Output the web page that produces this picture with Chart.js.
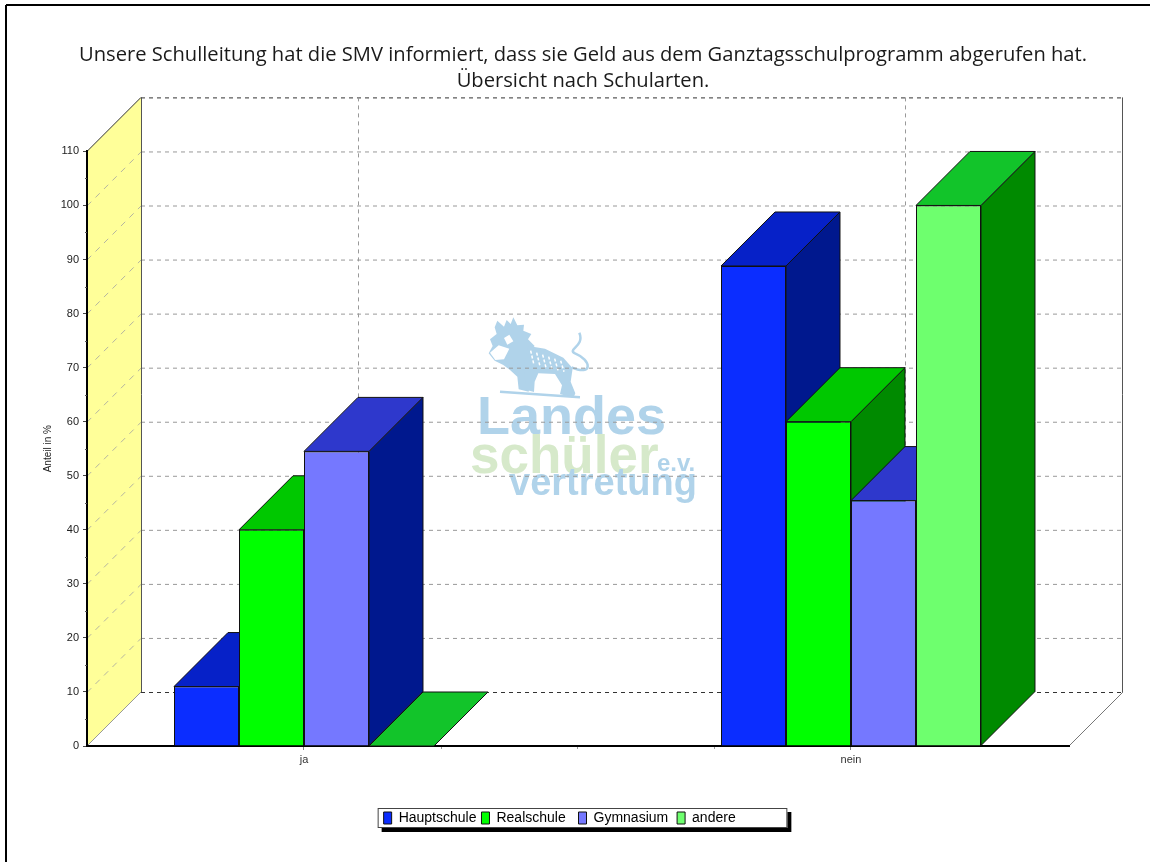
<!DOCTYPE html>
<html>
<head>
<meta charset="utf-8">
<title>Schulleitung SMV</title>
<style>
  html, body { margin: 0; padding: 0; background: #fff; overflow: hidden; }
  #wrap { position: absolute; left: 0; top: 0; width: 1150px; height: 862px; }
</style>
<script src="https://cdn.jsdelivr.net/npm/chart.js@4/dist/chart.umd.min.js"></script>
</head>
<body>
<div id="wrap"><canvas id="chart" width="1150" height="862"></canvas></div>
<script>
// --- DATA ---
const categories = ['ja', 'nein'];
const seriesNames = ['Hauptschule', 'Realschule', 'Gymnasium', 'andere'];
const hauptschule = [11, 88.8];
const realschule = [40, 60];
const gymnasium = [54.5, 45.4];
const andere = [0, 100];
const titleLines = [
  'Unsere Schulleitung hat die SMV informiert, dass sie Geld aus dem Ganztagsschulprogramm abgerufen hat.',
  'Übersicht nach Schularten.'
];
const yAxisTitle = 'Anteil in %';

// --- STYLES ---
const frontColors = ['#0b2dff', '#00ff00', '#7578ff', '#6eff6e'];
const topColors = ['#0621c8', '#00c800', '#2e38cc', '#12c42a'];
const sideColors = ['#00188e', '#008a00', '#00188e', '#008a00'];
const DEPTH = 54; // 3D offset of the back wall
const GRID = '#999999';
const legendTrailing = [0, 2, 1, 12]; // the source legend pads its columns with blanks

// Category scale with wider outer margins than the stock one
class MarginCategoryScale extends Chart.CategoryScale {
  static id = 'marginCategory';
  static defaults = Chart.CategoryScale.defaults;
  configure() {
    super.configure();
    this._startValue = -0.39671;
    this._valueRange = 1.79525;
  }
}
Chart.register(MarginCategoryScale);

function poly(ctx, pts, fill, stroke, lw) {
  ctx.beginPath();
  pts.forEach((p, i) => i ? ctx.lineTo(p[0], p[1]) : ctx.moveTo(p[0], p[1]));
  ctx.closePath();
  if (fill) { ctx.fillStyle = fill; ctx.fill(); }
  if (stroke) { ctx.strokeStyle = stroke; ctx.lineWidth = lw || 1; ctx.stroke(); }
}

function line(ctx, x1, y1, x2, y2, color, lw, dash) {
  ctx.save();
  ctx.beginPath();
  ctx.setLineDash(dash || []);
  ctx.moveTo(x1, y1);
  ctx.lineTo(x2, y2);
  ctx.strokeStyle = color;
  ctx.lineWidth = lw || 1;
  ctx.stroke();
  ctx.restore();
}

// --- WATERMARK --- (lion sketch + organisation name)
function drawWatermark(ctx) {
  const blue = '#b0d3ea', green = '#d6e9ca';
  const m = pts => pts.map(p => [460 + p[0] / 3, 310 + p[1] / 3]);
  ctx.save();
  // mane
  poly(ctx, m([[112,32],[132,50],[140,30],[152,42],[160,22],[172,46],[192,44],[190,62],[214,72],[204,88],[224,108],[206,128],[212,150],[196,168],[212,200],[206,245],[176,238],[172,200],[150,180],[130,165],[104,152],[86,130],[98,108],[90,88],[110,72],[104,52]]), blue);
  // body and legs
  poly(ctx, m([[205,108],[255,116],[310,143],[338,175],[332,215],[346,250],[340,264],[300,252],[306,226],[285,192],[235,190],[224,215],[222,246],[200,240],[190,170]]), blue);
  // face and stripes
  poly(ctx, m([[90,128],[116,106],[148,116],[132,148],[106,150]]), '#ffffff');
  poly(ctx, m([[132,84],[148,74],[160,94],[142,104]]), '#ffffff');
  for (let i = 0; i < 6; i++) {
    line(ctx, 460 + (212 + i * 18) / 3, 310 + (122 + i * 6) / 3, 460 + (222 + i * 18) / 3, 310 + (165 + i * 4) / 3, '#ffffff', 1.5, [3, 2]);
  }
  // tail
  ctx.beginPath();
  ctx.moveTo(460 + 335 / 3, 310 + 172 / 3);
  ctx.bezierCurveTo(460 + 400 / 3, 310 + 200 / 3, 460 + 395 / 3, 310 + 150 / 3, 460 + 345 / 3, 310 + 130 / 3);
  ctx.bezierCurveTo(460 + 320 / 3, 310 + 118 / 3, 460 + 375 / 3, 310 + 110 / 3, 460 + 358 / 3, 310 + 68 / 3);
  ctx.strokeStyle = blue;
  ctx.lineWidth = 2.5;
  ctx.stroke();
  // ground
  line(ctx, 460 + 120 / 3, 310 + 245 / 3, 460 + 360 / 3, 310 + 262 / 3, blue, 2.5);
  // name
  ctx.textAlign = 'left';
  ctx.textBaseline = 'alphabetic';
  ctx.fillStyle = blue;
  ctx.font = 'bold 54px "Liberation Sans"';
  ctx.fillText('Landes', 477, 434);
  ctx.fillStyle = green;
  ctx.font = 'bold 53px "Liberation Sans"';
  ctx.fillText('schüler', 470, 473);
  ctx.fillStyle = blue;
  ctx.font = 'bold 24px "Liberation Sans"';
  ctx.fillText('e.v.', 657, 471);
  ctx.font = 'bold 38px "Liberation Sans"';
  ctx.fillText('vertretung', 509, 495);
  ctx.restore();
}

// --- BACK WALLS, LEGEND BOX, FRAME ---
const backdropPlugin = {
  id: 'backdrop',
  beforeDraw(chart) {
    const ctx = chart.ctx, x = chart.scales.x, y = chart.scales.y;
    const L = x.left, R = x.right, B = y.bottom, T = y.top, d = DEPTH;

    ctx.save();
    ctx.fillStyle = '#fff';
    ctx.fillRect(0, 0, chart.width, chart.height);

    // outer frame, only top and left are inside the picture
    line(ctx, 6, 5, chart.width, 5, '#000', 2);
    line(ctx, 6, 5, 6, chart.height, '#000', 2);

    drawWatermark(ctx);

    // side wall
    poly(ctx, [[L, T], [L + d, T - d], [L + d, B - d], [L, B]], '#ffff99');

    // grid on the walls
    y.ticks.forEach(t => {
      const py = y.getPixelForValue(t.value) + 0.5;
      const strong = t.value === 0 || t.value === 110;
      line(ctx, L + d, py - d, R + d, py - d, strong ? '#333' : GRID, 1, [4, 4]);
      if (t.value !== 0 && t.value !== 110) line(ctx, L, py, L + d, py - d, '#b5b5a0', 1, [6, 6]);
    });
    categories.forEach((c, i) => {
      const px = Math.round(x.getPixelForValue(i)) + d + 0.5;
      line(ctx, px, T - d, px, B - d, GRID, 1, [4, 4]);
    });

    // edges of walls and floor
    line(ctx, L, T, L + d, T - d, '#333', 1);
    line(ctx, L + d + 0.5, T - d, L + d + 0.5, B - d, '#555', 1);
    line(ctx, R + d - 0.5, T - d, R + d - 0.5, B - d, '#555', 1);
    line(ctx, L, B, L + d, B - d, '#999', 1);
    line(ctx, R, B, R + d, B - d, '#777', 1);

    // legend box with hard shadow
    const hits = chart.legend.legendHitBoxes;
    const last = hits[hits.length - 1];
    const bx = hits[0].left - 6, by = hits[0].top - 3;
    const bw = last.left + last.width + 5 - bx, bh = 20;
    ctx.fillStyle = '#000';
    ctx.fillRect(bx + 4, by + 4, bw, bh);
    ctx.fillStyle = '#fff';
    ctx.fillRect(bx, by, bw, bh);
    ctx.strokeStyle = '#444';
    ctx.lineWidth = 1;
    ctx.strokeRect(bx + 0.5, by + 0.5, bw - 1, bh - 1);
    ctx.restore();
  },
  afterDraw(chart) {
    // minor ticks the source axes show between the labelled ones
    const ctx = chart.ctx, x = chart.scales.x, y = chart.scales.y;
    y.ticks.forEach(t => {
      if (t.value >= 110) return;
      const py = Math.round(y.getPixelForValue(t.value + 5)) + 0.5;
      line(ctx, x.left - 2, py, x.left, py, '#555', 1);
    });
    [0.25, 0.5, 0.75].forEach(v => {
      const px = Math.round(x.getPixelForValue(v)) + 0.5;
      line(ctx, px, y.bottom + 1, px, y.bottom + 3, '#999', 1);
    });
  }
};

// --- 3D FACES --- first series is painted first, each bar's side and top go under its own front
const extrudePlugin = {
  id: 'extrude',
  beforeDatasetsDraw(chart) {
    const ctx = chart.ctx, d = DEPTH;
    seriesNames.forEach((name, i) => {
      const meta = chart.getDatasetMeta(i);
      ctx.save();
      ctx.lineJoin = 'round';
      meta.data.forEach(bar => {
        const l = bar.x - bar.width / 2, r = bar.x + bar.width / 2, t = bar.y, b = bar.base;
        if (b - t > 0.5) poly(ctx, [[r, t], [r + d, t - d], [r + d, b - d], [r, b]], sideColors[i], '#111', 1);
        poly(ctx, [[l, t], [l + d, t - d], [r + d, t - d], [r, t]], topColors[i], '#111', 1);
      });
      ctx.restore();
      meta.controller.draw();
    });
  },
  // already painted above, in the reversed order
  beforeDatasetDraw() { return false; }
};

const seriesValues = [hauptschule, realschule, gymnasium, andere];

new Chart(document.getElementById('chart'), {
  type: 'bar',
  data: {
    labels: categories,
    datasets: seriesNames.map((name, i) => ({
      label: name,
      data: seriesValues[i],
      backgroundColor: frontColors[i],
      borderColor: '#111',
      borderWidth: 1
    }))
  },
  plugins: [backdropPlugin, extrudePlugin],
  options: {
    responsive: false,
    animation: false,
    categoryPercentage: 260 / 547,
    barPercentage: 1,
    layout: { padding: { left: 16, right: 0, top: 0, bottom: 27 } },
    plugins: {
      tooltip: { enabled: false },
      title: {
        display: true,
        text: titleLines,
        color: '#1a1a1a',
        font: { family: '"Open Sans"', size: 20.16, weight: 'normal', lineHeight: 1.25 },
        padding: { top: 43, bottom: 58 }
      },
      legend: {
        position: 'bottom',
        labels: {
          boxWidth: 8,
          boxHeight: 12,
          padding: 5,
          color: '#111',
          font: { family: '"Liberation Sans"', size: 14 },
          generateLabels(chart) {
            return chart.data.datasets.map((ds, i) => ({
              text: ds.label + ' '.repeat(legendTrailing[i]),
              fillStyle: ds.backgroundColor,
              strokeStyle: '#111',
              lineWidth: 1,
              datasetIndex: i,
              hidden: false
            }));
          }
        }
      }
    },
    scales: {
      x: {
        type: 'marginCategory',
        offset: true,
        afterFit(scale) { scale.height = 60; },
        border: { color: '#000', width: 2 },
        grid: { display: true, drawOnChartArea: false, drawTicks: true, offset: false, tickLength: 4, tickColor: '#888' },
        ticks: { color: '#333', padding: 3, maxRotation: 0, font: { family: '"Liberation Sans"', size: 11 } }
      },
      y: {
        min: 0,
        max: 110,
        afterFit(scale) { scale.width = 71; },
        border: { color: '#000', width: 2 },
        grid: { display: true, drawOnChartArea: false, drawTicks: true, tickLength: 4, tickColor: '#444' },
        ticks: { stepSize: 10, color: '#222', padding: 4, font: { family: '"Liberation Sans"', size: 11 } },
        title: {
          display: true,
          text: yAxisTitle,
          color: '#222',
          font: { family: '"Liberation Sans"', size: 10, lineHeight: 1.2 },
          padding: { top: 26, bottom: 0 }
        }
      },
      // empty axis that only holds the space right of the plot
      spacer: {
        position: 'right',
        display: true,
        afterFit(scale) { scale.width = 81; },
        border: { display: false },
        grid: { display: false },
        ticks: { display: false }
      }
    }
  }
});
</script>
</body>
</html>
